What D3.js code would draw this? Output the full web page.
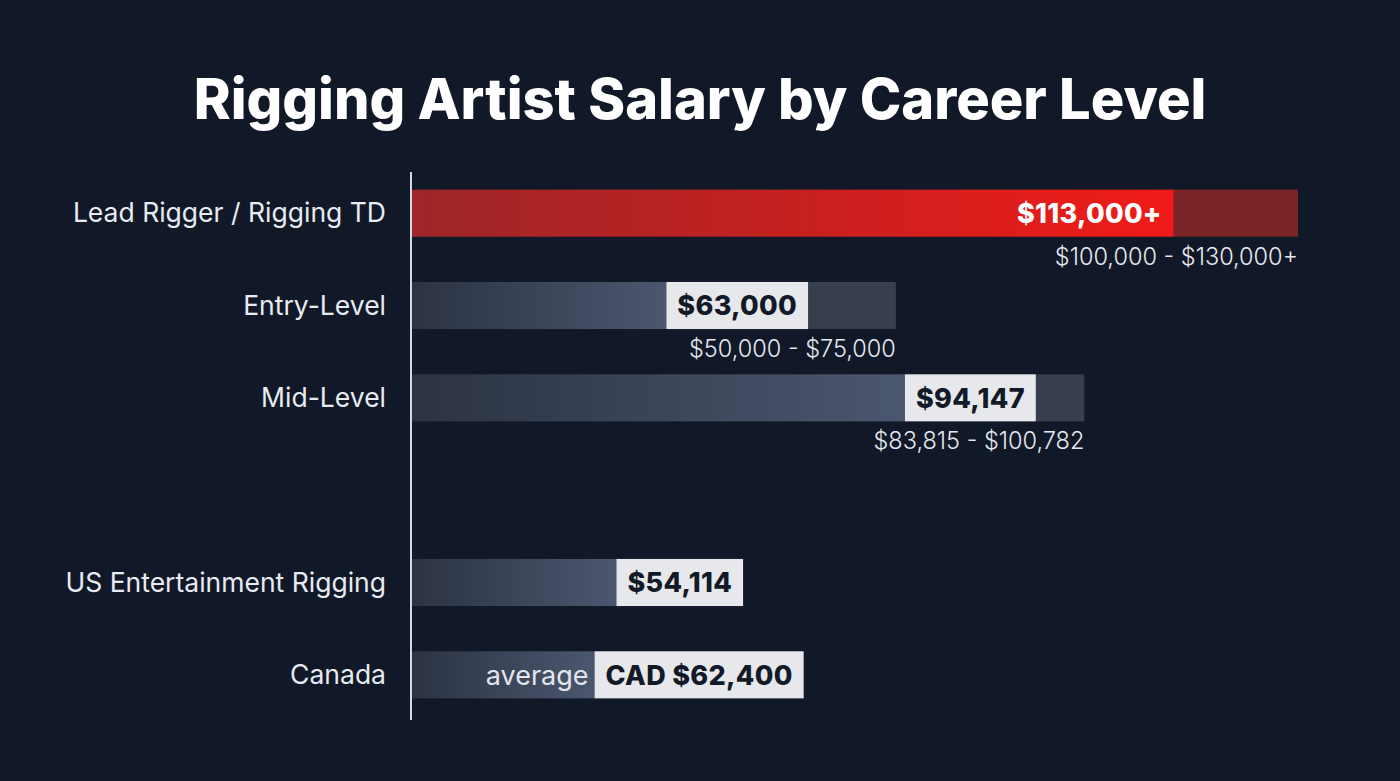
<!DOCTYPE html>
<html>
<head>
<meta charset="utf-8">
<script src="https://cdn.jsdelivr.net/npm/d3@7"></script>
<style>
  html, body { margin: 0; padding: 0; background: #111827; }
  svg { display: block; }
</style>
</head>
<body>
<svg id="chart"></svg>
<script>
// chart data
const categories = ["Lead Rigger / Rigging TD", "Entry-Level", "Mid-Level", "US Entertainment Rigging", "Canada"];
const values = [113000, 63000, 94147, 54114, 62400];
const rangeHigh = [130000, 75000, 100782, null, null];
const valueLabels = ["$113,000+", "$63,000", "$94,147", "$54,114", "CAD $62,400"];
const rangeLabels = ["$100,000 - $130,000+", "$50,000 - $75,000", "$83,815 - $100,782", null, null];
const prefixLabels = [null, null, null, null, "average"];
// empty slot between career levels and regional averages
const rowOrder = [categories[0], categories[1], categories[2], "gap", categories[3], categories[4]];

const width = 1400, height = 781;
const axisX = 411;

const svg = d3.select("#chart").attr("width", width).attr("height", height);
svg.append("rect").attr("width", width).attr("height", height).attr("fill", "#111827");

const defs = svg.append("defs");
const slate = defs.append("linearGradient").attr("id", "slate");
slate.append("stop").attr("offset", "0%").attr("stop-color", "#2b3343");
slate.append("stop").attr("offset", "100%").attr("stop-color", "#4b576f");
const red = defs.append("linearGradient").attr("id", "red");
red.append("stop").attr("offset", "0%").attr("stop-color", "#9c2628");
red.append("stop").attr("offset", "100%").attr("stop-color", "#f01b18");

const title = svg.append("text")
  .attr("x", 700).attr("y", 119)
  .attr("text-anchor", "middle")
  .attr("fill", "#ffffff")
  .style("font-family", "Inter, sans-serif")
  .style("font-weight", 800)
  .style("font-size", "56px")
  .text("Rigging Artist Salary by Career Level");
const tw = title.node().getComputedTextLength();
title.style("font-size", (56 * 1013 / tw) + "px");

const xScale = d3.scaleLinear().domain([8700, 130000]).range([axisX, 1298]);
const yScale = d3.scaleBand().domain(rowOrder).range([167, 721]).paddingInner(0.49).paddingOuter(0.245);

const rows = categories.map((c, i) => ({
  name: c, value: values[i], high: rangeHigh[i],
  label: valueLabels[i], range: rangeLabels[i], prefix: prefixLabels[i], lead: i === 0
}));

const bw = yScale.bandwidth();
const g = svg.append("g");

rows.forEach(d => {
  const y = yScale(d.name);
  const cy = y + bw / 2;
  const xv = xScale(d.value);
  const row = g.append("g");

  row.append("text")
    .attr("x", 386).attr("y", cy)
    .attr("text-anchor", "end").attr("dy", "0.35em")
    .attr("fill", "#e8ebf1")
    .style("font-family", "Inter, sans-serif")
    .style("font-size", "26.5px")
    .text(d.name);

  if (d.high != null) {
    row.append("rect")
      .attr("x", xv).attr("y", y)
      .attr("width", xScale(d.high) - xv).attr("height", bw)
      .attr("fill", d.lead ? "#7b2529" : "#373f4f");
  }

  const label = row.append("text")
    .attr("y", cy).attr("dy", "0.36em")
    .attr("text-anchor", "end")
    .style("font-family", "Inter, sans-serif")
    .style("font-weight", 800)
    .style("font-size", "27px")
    .style("letter-spacing", "0.3px")
    .text(d.label);
  const lw = label.node().getComputedTextLength();

  if (d.lead) {
    row.append("rect")
      .attr("x", axisX).attr("y", y)
      .attr("width", xv - axisX).attr("height", bw)
      .attr("fill", "url(#red)");
    label.attr("x", xv - 12).attr("fill", "#ffffff").raise();
  } else {
    const boxW = lw + 22;
    row.append("rect")
      .attr("x", axisX).attr("y", y)
      .attr("width", xv - boxW - axisX).attr("height", bw)
      .attr("fill", "url(#slate)");
    row.append("rect")
      .attr("x", xv - boxW).attr("y", y)
      .attr("width", boxW).attr("height", bw)
      .attr("fill", "#e6e8ec");
    label.attr("x", xv - 11).attr("fill", "#131a27").raise();
    if (d.prefix) {
      row.append("text")
        .attr("x", xv - boxW - 6).attr("y", cy).attr("dy", "0.36em")
        .attr("text-anchor", "end")
        .attr("fill", "#e3e6ec")
        .style("font-family", "Inter, sans-serif")
        .style("font-size", "27px")
        .text(d.prefix);
    }
  }

  if (d.range) {
    row.append("text")
      .attr("x", xScale(d.high)).attr("y", y + bw + 28)
      .attr("text-anchor", "end")
      .attr("fill", "#e6e9ef")
      .style("font-family", "Inter, sans-serif")
      .style("font-weight", 300)
      .style("font-size", "23.5px")
      .text(d.range);
  }
});

svg.append("line")
  .attr("x1", axisX).attr("x2", axisX)
  .attr("y1", 172).attr("y2", 720)
  .attr("stroke", "#d5d9e0").attr("stroke-width", 2);
</script>
</body>
</html>
